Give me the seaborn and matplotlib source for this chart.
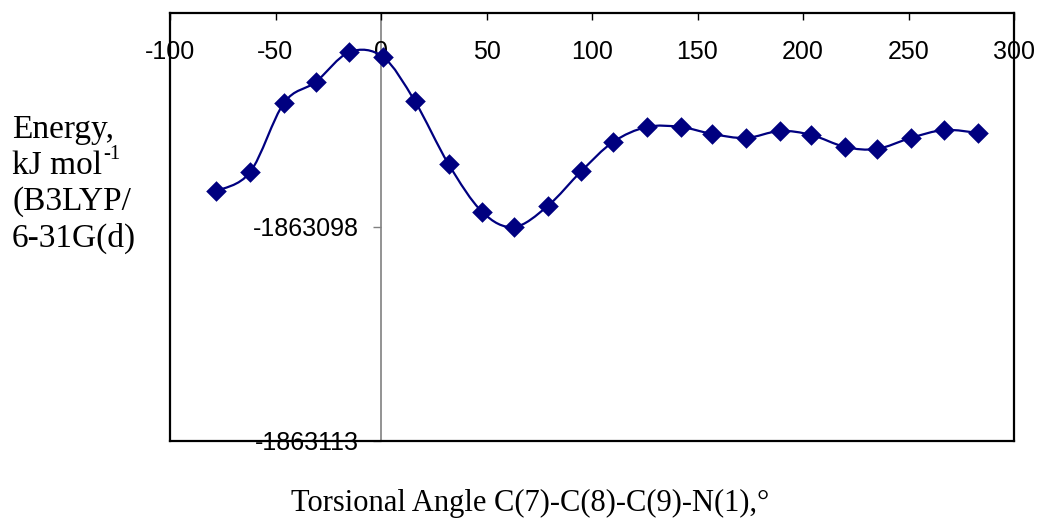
import numpy as np
import matplotlib
matplotlib.use("Agg")
import matplotlib.pyplot as plt
import seaborn as sns
from matplotlib.path import Path
from matplotlib.patches import PathPatch
from matplotlib.ticker import StrMethodFormatter

# torsional angle (deg) and B3LYP/6-31G(d) energy (kJ/mol)
angle = [-78, -62, -46, -31, -15, 1, 16, 32, 48, 63, 79, 95,
         110, 126, 142, 157, 173, 189, 204, 220, 235, 251, 267, 283]
energy = [-1863095.48, -1863094.15, -1863089.31, -1863087.84, -1863085.74,
          -1863086.09, -1863089.17, -1863093.59, -1863096.95, -1863098.00,
          -1863096.53, -1863094.08, -1863092.04, -1863090.99, -1863090.99,
          -1863091.48, -1863091.76, -1863091.27, -1863091.55, -1863092.39,
          -1863092.53, -1863091.76, -1863091.20, -1863091.41]
x_ticks = [-100, -50, 0, 50, 100, 150, 200, 250, 300]
y_ticks = [-1863113, -1863098]
y_label_lines = ["Energy,", "kJ mol", "(B3LYP/", "6-31G(d)"]
y_label_sup = "-1"
x_title = "Torsional Angle C(7)-C(8)-C(9)-N(1),°"

sns.set_style("white")
plt.rcParams["font.family"] = ["Liberation Sans", "DejaVu Sans"]
plt.rcParams["axes.unicode_minus"] = False
plt.rcParams["text.color"] = "black"
plt.rcParams["xtick.color"] = "black"
plt.rcParams["ytick.color"] = "black"
plt.rcParams["xtick.labelcolor"] = "black"
plt.rcParams["ytick.labelcolor"] = "black"

df_x = np.array(angle, dtype=float)
df_y = np.array(energy, dtype=float)

fig = plt.figure(figsize=(10.39, 5.21), dpi=100)
ax = fig.add_axes([170 / 1039, 1 - 441 / 521, 844 / 1039, 428 / 521])

# smoothed curve (Excel-style Catmull-Rom through the data points)
pts = np.column_stack([df_x, df_y])
ext = np.vstack([pts[0], pts, pts[-1]])
verts = [tuple(pts[0])]
codes = [Path.MOVETO]
for i in range(len(pts) - 1):
    p0, p1, p2, p3 = ext[i], ext[i + 1], ext[i + 2], ext[i + 3]
    c1 = p1 + (p2 - p0) / 6
    c2 = p2 - (p3 - p1) / 6
    verts += [tuple(c1), tuple(c2), tuple(p2)]
    codes += [Path.CURVE4] * 3
ax.add_patch(PathPatch(Path(verts, codes), facecolor="none",
                       edgecolor="#000080", lw=1.6, zorder=3))

sns.scatterplot(x=df_x, y=df_y, ax=ax, marker="D", s=110, color="#000080",
                edgecolor="#000080", linewidth=0, zorder=4)

ax.set_xlim(-100, 300)
ax.set_ylim(-1863113, -1863083)
ax.set_xticks(x_ticks)
ax.tick_params(axis="x", top=True, bottom=False, labeltop=True, labelbottom=False,
               direction="in", length=5, width=1, color="black",
               labelsize=18, pad=-37)
ax.tick_params(axis="y", left=False, labelleft=False)
for s in ax.spines.values():
    s.set_color("black")
    s.set_linewidth(1.6)
ax.set_xlabel("")
ax.set_ylabel("")

# value axis crossing at angle 0
sec = ax.secondary_yaxis(0.25)
sec.set_yticks(y_ticks)
sec.yaxis.set_major_formatter(StrMethodFormatter("{x:.0f}"))
sec.spines["left"].set_color("#808080")
sec.spines["left"].set_linewidth(1.2)
sec.tick_params(axis="y", direction="out", length=6, width=1, color="#808080",
                labelsize=18, pad=10)

serif = ["Liberation Serif", "DejaVu Serif"]
texts = []
for i, line in enumerate(y_label_lines):
    texts.append(fig.text(12 / 1039, 1 - (130 + 36 * i) / 521, line, ha="left",
                          va="center", family=serif, fontsize=24))

# superscript after "kJ mol"
r = fig.canvas.get_renderer()
bb = texts[1].get_window_extent(renderer=r)
fig.text((bb.x1 + 1) / 1039, (bb.y1 + 6) / 521, y_label_sup, ha="left", va="top",
         family=serif, fontsize=15)

fig.text(530 / 1039, 1 - 503 / 521, x_title, ha="center", va="center",
         family=serif, fontsize=22)

fig.savefig("out.png", dpi=100)
